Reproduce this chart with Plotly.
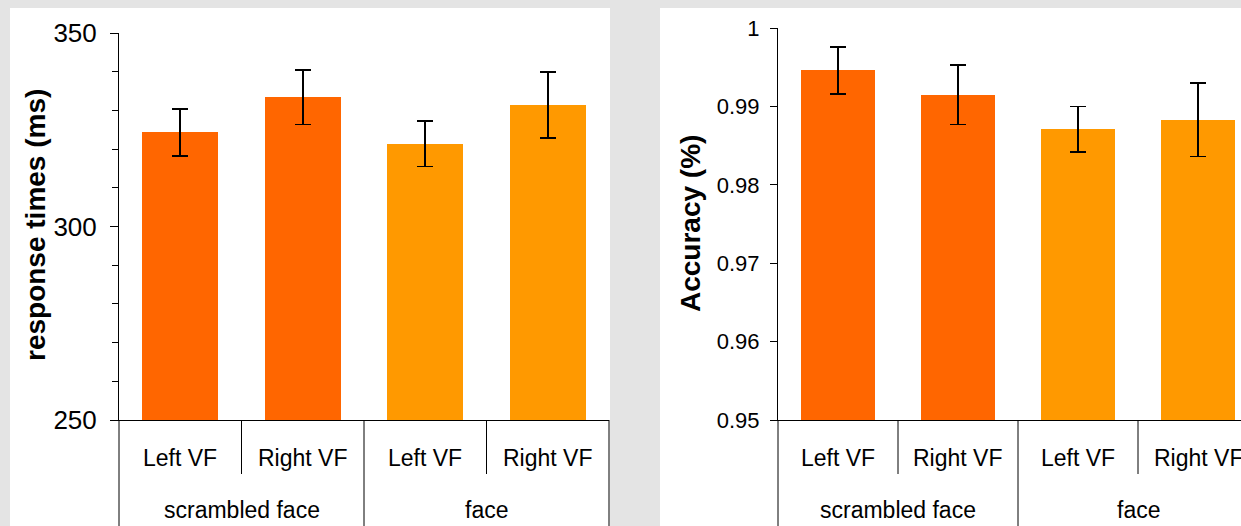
import plotly.graph_objects as go

# ---------------- data ----------------
conditions = ["scrambled face", "scrambled face", "face", "face"]
fields = ["Left VF", "Right VF", "Left VF", "Right VF"]
groups = ["scrambled face", "face"]
bar_colors = ["#FF6600", "#FF6600", "#FF9900", "#FF9900"]

rt_mean = [324.3, 333.4, 321.4, 331.4]
rt_err = [6.1, 7.0, 5.9, 8.5]

acc_mean = [0.9946, 0.9915, 0.9871, 0.9883]
acc_err = [0.0030, 0.0038, 0.0029, 0.0047]

rt_tickvals = [250, 300, 350]
rt_ticktext = ["250", "300", "350"]
acc_tickvals = [0.95, 0.96, 0.97, 0.98, 0.99, 1.0]
acc_ticktext = ["0.95", "0.96", "0.97", "0.98", "0.99", "1"]

# ---------------- layout geometry ----------------
W, H = 1241, 526
FONT = "Liberation Sans, Arial, sans-serif"
GRAY = "#e4e4e4"


def px_x(p):
    return p / W


def px_y(p):
    return (H - p) / H


base_y = px_y(420)          # x-axis baseline
short_y = px_y(474)         # end of inner dividers
lab1_y = px_y(458)          # inner labels
lab2_y = px_y(510)          # outer labels

x = list(range(len(fields)))

fig = go.Figure()

fig.add_trace(go.Bar(
    x=x, y=rt_mean, width=0.62, marker=dict(color=bar_colors, line=dict(width=0)),
    error_y=dict(type="data", array=rt_err, color="black", thickness=1.6, width=8),
    xaxis="x", yaxis="y", showlegend=False))

fig.add_trace(go.Bar(
    x=x, y=acc_mean, width=0.62, marker=dict(color=bar_colors, line=dict(width=0)),
    error_y=dict(type="data", array=acc_err, color="black", thickness=1.6, width=8),
    xaxis="x2", yaxis="y2", showlegend=False))

# right x range: axis starts at 778px, 120px per category, clipped at image edge
cat_px2 = 120
x2_max = -0.5 + (W - 778) / cat_px2

common_x = dict(showgrid=False, zeroline=False, showticklabels=False, ticks="",
                showline=True, linecolor="black", linewidth=1, automargin=False)

fig.update_layout(
    template="none",
    width=W, height=H, autosize=False,
    margin=dict(l=0, r=0, t=0, b=0, pad=0),
    paper_bgcolor=GRAY, plot_bgcolor="white",
    bargap=0, showlegend=False,
    font=dict(family=FONT, color="black"),
    xaxis=dict(domain=[px_x(119), px_x(609)], range=[-0.5, 3.5], anchor="y", **common_x),
    yaxis=dict(domain=[base_y, px_y(33)], range=[250, 350], anchor="x",
               tickvals=rt_tickvals, ticktext=rt_ticktext,
               ticks="outside", ticklen=8, tickwidth=1, tickcolor="black",
               minor=dict(dtick=10, tick0=250, ticks="outside", ticklen=6, tickcolor="black", showgrid=False),
               showline=True, linecolor="black", linewidth=1, showgrid=False, zeroline=False,
               tickfont=dict(size=26, family=FONT), ticklabelstandoff=8, automargin=False),
    yaxis3=dict(overlaying="y", range=[250, 350], anchor="x", tickvals=rt_tickvals,
                ticks="inside", ticklen=8, tickwidth=1, tickcolor="black",
                showticklabels=False, showline=False, showgrid=False, zeroline=False, automargin=False),
    xaxis2=dict(domain=[px_x(778), 1.0], range=[-0.5, x2_max], anchor="y2", **common_x),
    yaxis2=dict(domain=[base_y, px_y(28)], range=[0.95, 1.0], anchor="x2",
                tickvals=acc_tickvals, ticktext=acc_ticktext,
                ticks="outside", ticklen=7, tickwidth=1, tickcolor="black",
                showline=True, linecolor="black", linewidth=1, showgrid=False, zeroline=False,
                tickfont=dict(size=22, family=FONT), ticklabelstandoff=6, automargin=False),
)

shapes = [
    # white panels
    dict(type="rect", xref="paper", yref="paper", x0=px_x(10), x1=px_x(610), y0=0, y1=px_y(8),
         fillcolor="white", line=dict(width=0), layer="below"),
    dict(type="rect", xref="paper", yref="paper", x0=px_x(660), x1=1, y0=0, y1=px_y(8),
         fillcolor="white", line=dict(width=0), layer="below"),
]
line = dict(color="black", width=1)
annotations = []

for xa in ("x", "x2"):
    # y-axis line extension and outer edges down to bottom
    shapes.append(dict(type="line", xref=f"{xa} domain", yref="paper", x0=0, x1=0, y0=0, y1=base_y, line=line))
    if xa == "x":
        shapes.append(dict(type="line", xref="x domain", yref="paper", x0=1, x1=1, y0=0, y1=base_y, line=line))
    # dividers between categories
    for i in range(len(fields) - 1):
        b = i + 0.5
        full = conditions[i] != conditions[i + 1]
        shapes.append(dict(type="line", xref=xa, yref="paper", x0=b, x1=b,
                           y0=0 if full else short_y, y1=base_y, line=line))
    # inner labels
    for i, f in enumerate(fields):
        annotations.append(dict(x=i, y=lab1_y, xref=xa, yref="paper", text=f, showarrow=False,
                                xanchor="center", yanchor="middle", font=dict(size=23, family=FONT)))
    # outer labels
    for g in groups:
        idx = [i for i, c in enumerate(conditions) if c == g]
        annotations.append(dict(x=sum(idx) / len(idx), y=lab2_y, xref=xa, yref="paper", text=g,
                                showarrow=False, xanchor="center", yanchor="middle",
                                font=dict(size=23, family=FONT)))

# axis titles
annotations.append(dict(x=px_x(35), y=px_y(225), xref="paper", yref="paper", text="<b>response times (ms)</b>",
                        textangle=-90, showarrow=False, xanchor="center", yanchor="middle",
                        font=dict(size=28, family=FONT)))
annotations.append(dict(x=px_x(690), y=px_y(224), xref="paper", yref="paper", text="<b>Accuracy (%)</b>",
                        textangle=-90, showarrow=False, xanchor="center", yanchor="middle",
                        font=dict(size=28, family=FONT)))

fig.update_layout(shapes=shapes, annotations=annotations)

fig.write_html("out.html")
